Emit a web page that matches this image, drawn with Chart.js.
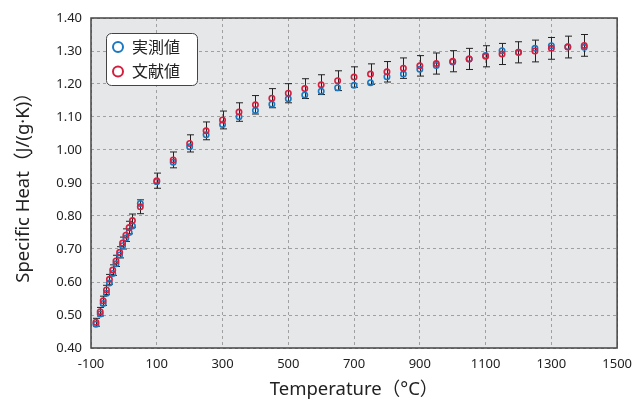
<!DOCTYPE html>
<html>
<head>
<meta charset="utf-8">
<script src="https://cdn.jsdelivr.net/npm/chart.js@4.4.1/dist/chart.umd.min.js"></script>
<style>
  html, body { margin: 0; padding: 0; background: #fff; }
  canvas { display: block; }
</style>
</head>
<body>
<canvas id="chart" width="640" height="406"></canvas>
<script>
// temperatures (°C)
const temps = [-85, -72, -63, -53, -44, -34, -24, -13, -4, 6, 16, 26, 50,
  100, 150, 200, 250, 300, 350, 400, 450, 500, 550, 600, 650, 700, 750, 800,
  850, 900, 950, 1000, 1050, 1100, 1150, 1200, 1250, 1300, 1350, 1400];

// 実測値 (measured)
const measured = [0.472, 0.503, 0.535, 0.566, 0.597, 0.626, 0.655, 0.682, 0.710, 0.733, 0.750, 0.770, 0.838,
  0.904, 0.963, 1.010, 1.046, 1.077, 1.101, 1.120, 1.139, 1.155, 1.167, 1.178, 1.189, 1.196, 1.204, 1.222,
  1.230, 1.245, 1.256, 1.267, 1.276, 1.286, 1.301, 1.296, 1.308, 1.316, 1.313, 1.311];

// 文献値 (literature)
const literature = [0.478, 0.510, 0.543, 0.576, 0.608, 0.636, 0.664, 0.690, 0.718, 0.742, 0.765, 0.786, 0.828,
  0.907, 0.970, 1.020, 1.058, 1.091, 1.115, 1.137, 1.157, 1.172, 1.186, 1.198, 1.210, 1.221, 1.230, 1.237,
  1.248, 1.255, 1.262, 1.269, 1.276, 1.284, 1.291, 1.296, 1.300, 1.308, 1.312, 1.317];

// error bar half-widths on literature values
const litErr = [0.012, 0.013, 0.014, 0.014, 0.015, 0.016, 0.017, 0.017, 0.018, 0.019, 0.019, 0.020, 0.021,
  0.023, 0.024, 0.026, 0.027, 0.027, 0.028, 0.028, 0.029, 0.029, 0.030, 0.030, 0.030, 0.031, 0.031, 0.031,
  0.031, 0.031, 0.032, 0.032, 0.032, 0.032, 0.032, 0.032, 0.033, 0.033, 0.033, 0.033];

const xTicks = [-100, 100, 300, 500, 700, 900, 1100, 1300, 1500];
const seriesNames = ['実測値', '文献値'];

const BLUE = '#1a78c2', RED = '#d41f3f';
const FONT = "'Noto Sans', 'Noto Sans CJK JP', sans-serif";
Chart.defaults.font.family = FONT;
Chart.defaults.color = '#222';

const plotBg = {
  id: 'plotBg',
  beforeDraw(chart) {
    const { ctx, chartArea: a } = chart;
    ctx.save();
    ctx.fillStyle = '#e6e7e9';
    ctx.fillRect(a.left, a.top, a.right - a.left, a.bottom - a.top);
    ctx.restore();
  }
};

const errorBars = {
  id: 'errorBars',
  beforeDatasetsDraw(chart) {
    const { ctx, scales: { x, y } } = chart;
    ctx.save();
    ctx.strokeStyle = '#222';
    ctx.lineWidth = 1;
    temps.forEach((t, i) => {
      const px = Math.round(x.getPixelForValue(t)) + 0.5;
      const top = y.getPixelForValue(literature[i] + litErr[i]);
      const bot = y.getPixelForValue(literature[i] - litErr[i]);
      ctx.beginPath();
      ctx.moveTo(px, top); ctx.lineTo(px, bot);
      ctx.moveTo(px - 3.5, top); ctx.lineTo(px + 3.5, top);
      ctx.moveTo(px - 3.5, bot); ctx.lineTo(px + 3.5, bot);
      ctx.stroke();
    });
    ctx.restore();
  }
};

const frameAndLegend = {
  id: 'frameAndLegend',
  afterDraw(chart) {
    const { ctx, chartArea: a } = chart;
    ctx.save();
    ctx.strokeStyle = '#444';
    ctx.lineWidth = 1.5;
    ctx.strokeRect(a.left, a.top, a.right - a.left, a.bottom - a.top);

    // legend box
    const bx = 106.5, by = 33.5, bw = 91, bh = 52;
    ctx.beginPath();
    ctx.roundRect(bx, by, bw, bh, 5);
    ctx.fillStyle = '#fff';
    ctx.fill();
    ctx.lineWidth = 1;
    ctx.strokeStyle = '#444';
    ctx.stroke();

    const cols = [BLUE, RED];
    ctx.font = '16px ' + FONT;
    ctx.textBaseline = 'middle';
    seriesNames.forEach((name, i) => {
      const cy = 47 + i * 24.5;
      ctx.beginPath();
      ctx.arc(118, cy, 5, 0, Math.PI * 2);
      ctx.lineWidth = 2;
      ctx.strokeStyle = cols[i];
      ctx.stroke();
      ctx.fillStyle = '#222';
      ctx.fillText(name, 132, cy + 1);
    });
    ctx.restore();
  }
};

new Chart(document.getElementById('chart'), {
  type: 'scatter',
  data: {
    datasets: [
      {
        label: seriesNames[0],
        data: temps.map((t, i) => ({ x: t, y: measured[i] })),
        borderColor: BLUE, backgroundColor: 'transparent',
        pointRadius: 2.7, pointBorderWidth: 1.6, order: 2
      },
      {
        label: seriesNames[1],
        data: temps.map((t, i) => ({ x: t, y: literature[i] })),
        borderColor: RED, backgroundColor: 'transparent',
        pointRadius: 2.7, pointBorderWidth: 1.6, order: 1
      }
    ]
  },
  options: {
    responsive: false,
    animation: false,
    layout: { padding: { left: 0, right: 19, top: 18, bottom: 0 } },
    plugins: { legend: { display: false }, tooltip: { enabled: false } },
    scales: {
      x: {
        type: 'linear', min: -100, max: 1500,
        afterBuildTicks: s => { s.ticks = xTicks.map(v => ({ value: v })); },
        afterFit: s => { s.height = 58; },
        grid: { color: '#a0a0a0', lineWidth: 1, drawTicks: false },
        border: { display: false, dash: [3, 3] },
        ticks: { font: { size: 13 }, padding: 8, maxRotation: 0, autoSkip: false, color: '#222', callback: v => String(v) },
        title: { display: true, text: 'Temperature（°C）', font: { size: 18.5 }, color: '#222', padding: { top: 3, bottom: 5 } }
      },
      y: {
        min: 0.4, max: 1.4,
        afterFit: s => { s.width = 91; },
        grid: { color: '#a0a0a0', lineWidth: 1, drawTicks: false },
        border: { display: false, dash: [3, 3] },
        ticks: { stepSize: 0.1, font: { size: 13 }, padding: 9, color: '#222', callback: v => v.toFixed(2) },
        title: { display: true, text: 'Specific Heat（J/(g·K)）', font: { size: 18.5 }, color: '#222', padding: { top: 13, bottom: 0 } }
      }
    }
  },
  plugins: [plotBg, errorBars, frameAndLegend]
});
</script>
</body>
</html>
